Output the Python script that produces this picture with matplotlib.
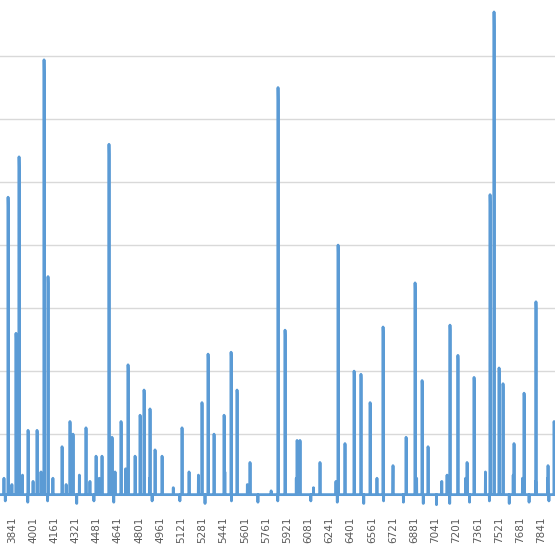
import numpy as np
import matplotlib
matplotlib.use("Agg")
import matplotlib.pyplot as plt

# category index range shown in the crop
first_idx = 3750
last_idx = 7946

# spikes: (category index, value)
spike_idx = [3811, 3871, 3894, 3962, 4030, 4083, 4113, 4219, 4279, 4302, 4400, 4476,
             4521, 4574, 4597, 4665, 4718, 4771, 4809, 4839, 4884, 4922, 4975, 5126,
             5179, 5277, 5323, 5368, 5444, 5497, 5542, 5640, 5852, 5905, 5996, 6018,
             6169, 6306, 6358, 6427, 6479, 6548, 6646, 6721, 6820, 6888, 6941, 6986,
             7152, 7212, 7281, 7334, 7455, 7485, 7523, 7553, 7636, 7712, 7802, 7893,
             7939]
spike_val = [4.76, 2.6, 5.4, 1.06, 1.06, 6.94, 3.5, 0.8, 1.2, 1.0, 1.1, 0.65,
             0.65, 5.6, 0.95, 1.2, 2.1, 0.65, 1.3, 1.7, 1.4, 0.75, 0.65, 1.1,
             0.4, 1.5, 2.27, 1.0, 1.3, 2.3, 1.7, 0.55, 6.5, 2.65, 0.9, 0.9,
             0.55, 4.0, 0.85, 2.0, 1.95, 1.5, 2.7, 0.5, 0.95, 3.4, 1.85, 0.8,
             2.73, 2.25, 0.55, 1.9, 4.8, 7.7, 2.05, 1.8, 0.85, 1.65, 3.1, 0.5,
             1.2]

# smaller bumps and dips along the baseline
bump_idx = [3780, 3840, 3920, 4000, 4060, 4150, 4250, 4350, 4430, 4500, 4620, 4700,
            4880, 5060, 5250, 5450, 5620, 5800, 5990, 6120, 6290, 6430, 6600, 6720,
            6820, 6900, 7090, 7130, 7270, 7420, 7630, 7700, 7800, 7890]
bump_val = [0.3, 0.2, 0.35, 0.25, 0.4, 0.3, 0.2, 0.35, 0.25, 0.3, 0.4, 0.45,
            0.3, 0.15, 0.35, 0.4, 0.2, 0.1, 0.3, 0.15, 0.25, 0.45, 0.3, 0.35,
            0.4, 0.3, 0.25, 0.35, 0.3, 0.4, 0.35, 0.3, 0.25, 0.3]
dip_idx = [3790, 3960, 4110, 4330, 4460, 4610, 4900, 5110, 5300, 5500, 5700, 5850,
           6100, 6300, 6500, 6650, 6800, 6950, 7050, 7150, 7300, 7450, 7600, 7750, 7900]
dip_val = [-0.06, -0.08, -0.06, -0.1, -0.06, -0.08, -0.06, -0.06, -0.1, -0.06, -0.08, -0.06,
           -0.06, -0.08, -0.1, -0.06, -0.08, -0.1, -0.12, -0.1, -0.08, -0.06, -0.1, -0.08, -0.06]
base_level = 0.04

idx = np.arange(first_idx, last_idx + 60)
vals = np.full(len(idx), base_level)
for i, v in zip(dip_idx, dip_val):
    vals[i - first_idx] = v
for i, v in zip(bump_idx, bump_val):
    vals[i - first_idx] = v
for i, v in zip(spike_idx, spike_val):
    vals[i - first_idx] = v
    vals[i - first_idx + 1] = v * 0.97

tick_labels = list(range(3841, 7842, 160))

fig = plt.figure(figsize=(5.55, 5.55), dpi=100)
ax = fig.add_axes([0, 0.077, 1, 0.923])
ax.plot(idx, vals, color='#5B9BD5', linewidth=2.0)

ax.set_xlim(first_idx, last_idx)
ax.set_ylim(-0.24, 7.89)
ax.set_yticks(range(1, 8))
ax.yaxis.grid(True, color='#D9D9D9', linewidth=1)
ax.set_axisbelow(True)
ax.set_xticks(tick_labels)
ax.set_xticklabels([str(t) for t in tick_labels], rotation=90, fontsize=7.5, color='#595959')
ax.tick_params(axis='x', length=0, pad=3)
ax.tick_params(axis='y', length=0, labelleft=False)
for s in ax.spines.values():
    s.set_visible(False)

fig.savefig('out.png', dpi=100)
